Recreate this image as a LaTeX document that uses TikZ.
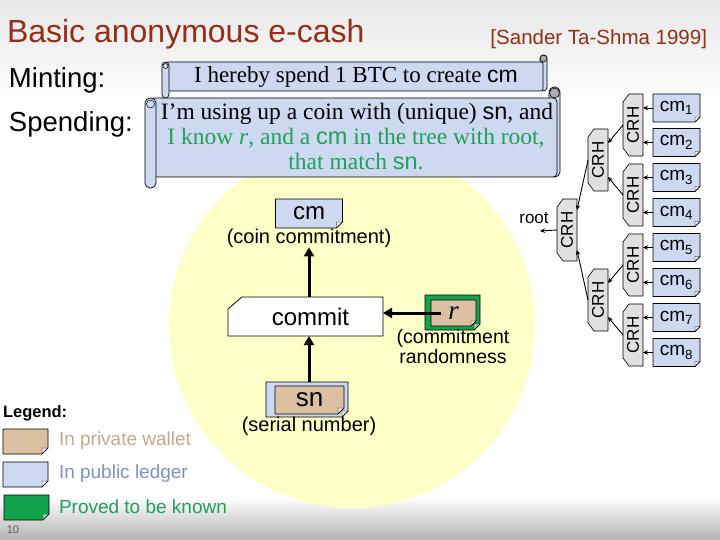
\documentclass[tikz,border=0pt]{standalone}
\usepackage{fontspec}
\usepackage{graphicx}
\setmainfont{Liberation Serif}
\setsansfont{Liberation Sans}
\usetikzlibrary{calc,arrows.meta}
\pgfdeclarelayer{bg}
\pgfdeclarelayer{boxes}
\pgfsetlayers{bg,boxes,main}
\definecolor{titlered}{HTML}{962D14}
\definecolor{ledger}{HTML}{CCD9F0}
\definecolor{wallet}{HTML}{DCC0A2}
\definecolor{proved}{HTML}{12A34C}
\definecolor{crhgray}{HTML}{E0E0E0}
\definecolor{greentext}{HTML}{20A058}
\definecolor{circ}{HTML}{FFFFC8}
\definecolor{legtan}{HTML}{C8A888}
\definecolor{legblue}{HTML}{7D93C4}
\newcommand\fsz[1]{\fontsize{#1}{#1}\selectfont}
\newcommand\foldbox[3][6]{%
  \filldraw[fill=#3,draw=black,line width=0.7pt,line join=round]
    (#2.north west) -- (#2.north east) -- ($(#2.south east)+(0,-#1)$) -- ($(#2.south east)+(-#1,0)$) -- (#2.south west) -- cycle;
  \filldraw[fill=white!55!#3,draw=black,line width=0.4pt,line join=round]
    ($(#2.south east)+(0,-#1)$) -- ($(#2.south east)+(-#1,0)$) -- ($(#2.south east)+(-#1,-#1)$) -- cycle;
}
\newcommand\crhshape[1]{%
  \filldraw[fill=crhgray,draw=black,line width=0.6pt,line join=round]
   ($(#1.north west)+(6,0)$) -- (#1.north east) -- (#1.south east) -- ($(#1.south west)+(6,0)$) -- ($(#1.south west)+(0,-8)$) -- ($(#1.north west)+(0,8)$) -- cycle;}
\begin{document}
\begin{tikzpicture}[x=1pt,y=-1pt,
  every node/.style={inner sep=0pt, outer sep=0pt},
  sans/.style={font=\sffamily\fsz{#1}},
  big/.style={line width=3pt, -{Triangle[length=9pt,width=10pt]}},
  small/.style={line width=0.9pt, -{Stealth[length=5pt,width=4.5pt]}},
  crh/.style={minimum width=20pt, minimum height=62pt, font=\sffamily\fsz{17}},
  leaf/.style={minimum width=47pt, minimum height=28pt, font=\sffamily\fsz{19}},
]
\useasboundingbox (0,0) rectangle (720,540);
\begin{pgfonlayer}{bg}
  \fill[white] (0,0) rectangle (720,540);
  \shade[top color=gray!18, bottom color=white] (0,0) rectangle (720,110);
  \shade[top color=white, bottom color=gray!60] (0,498) rectangle (720,540);
  \fill[circ] (352,325) circle[radius=183];
\end{pgfonlayer}

% titles
\node[sans=32, text=titlered, anchor=west] (title) at (7,34) {Basic anonymous e-cash};
\node[sans=20.5, text=titlered, anchor=east] (cite) at (707,39) {[Sander Ta-Shma 1999]};
\node[sans=27.5, anchor=west] (minting) at (9,80) {Minting:};
\node[sans=27.5, anchor=west] (spending) at (9,124) {Spending:};

% scroll texts
\node[font=\fsz{23}] (mint) at (356,77) {I hereby spend 1 BTC to create \textsf{cm}};
\node[font=\fsz{23.5}] (sp1) at (357,114) {I’m using up a coin with (unique) \textsf{sn}, and};
\node[font=\fsz{23.5}, text=greentext] (sp2) at (356,138) {I know \textit{r}, and a \textsf{cm} in the tree with root,};
\node[font=\fsz{23.5}, text=greentext] (sp3) at (356,162) {that match \textsf{sn}.};

% main diagram
\node[minimum width=67pt, minimum height=29pt, sans=24] (cm) at (309,213.5) {cm};
\node[sans=20] (cmlab) at (309,238) {(coin commitment)};
\node[minimum width=155pt, minimum height=39pt, sans=24] (commit) at (305.5,316.5) {\hspace{10pt}commit};
\node[minimum width=82pt, minimum height=35pt] (snout) at (307,399.5) {};
\node[minimum width=69pt, minimum height=28pt, sans=26] (sn) at (309.5,400) {sn};
\node[sans=20] (snlab) at (309,426.5) {(serial number)};
\node[minimum width=55pt, minimum height=35pt] (rout) at (452.5,312.5) {};
\node[minimum width=45pt, minimum height=26pt, font=\fsz{27}\itshape] (r) at (453.5,313) {r};
\node[sans=19.5] (rlab1) at (453,338) {(commitment};
\node[sans=19.5] (rlab2) at (453,357) {randomness};

\draw[big] (commit.north -| cm.south) -- (cmlab.south -| cm.south);
\draw[big] (snout.north -| cm.south) -- (commit.south -| cm.south);
\draw[big] ($(r.west)+(10,0)$) -- (commit.east |- r.west);

% tree
\node[crh] (root) at (567,230) {\rotatebox{90}{CRH}};
\node[crh] (b1) at (598,160) {\rotatebox{90}{CRH}};
\node[crh] (b2) at (598,300) {\rotatebox{90}{CRH}};
\node[crh] (c1) at (633,125) {\rotatebox{90}{CRH}};
\node[crh] (c2) at (633,195) {\rotatebox{90}{CRH}};
\node[crh] (c3) at (633,265) {\rotatebox{90}{CRH}};
\node[crh] (c4) at (633,335) {\rotatebox{90}{CRH}};
\foreach \i/\y in {1/108,2/142.5,3/177.5,4/212.5,5/247.5,6/282.5,7/317.5,8/352.5}
  \node[leaf] (l\i) at (676.5,\y) {cm\textsubscript{\i}};
\foreach \i/\c in {1/c1,2/c1,3/c2,4/c2,5/c3,6/c3,7/c4,8/c4}
  \draw[small] (l\i.west) -- (l\i.west -| \c.east);
\draw[small] (c1.west) -- ($(b1.east)+(0,-17)$);
\draw[small] (c2.west) -- ($(b1.east)+(0,17)$);
\draw[small] (c3.west) -- ($(b2.east)+(0,-17)$);
\draw[small] (c4.west) -- ($(b2.east)+(0,17)$);
\draw[small] (b1.west) -- ($(root.east)+(0,-20)$);
\draw[small] (b2.west) -- ($(root.east)+(0,20)$);
\coordinate (rootend) at (540,231);
\draw[small] (root.west) -- (rootend);
\node[sans=17] (rootlbl) at (534,218) {root};

% legend
\node[font=\sffamily\bfseries\fsz{16.5}, anchor=west] (legend) at (3,413) {Legend:};
\node[minimum width=45pt, minimum height=25pt] (lg1) at (25.5,441.5) {};
\node[minimum width=45pt, minimum height=25pt] (lg2) at (25.5,474.5) {};
\node[minimum width=45pt, minimum height=25pt] (lg3) at (26.5,507.5) {};
\node[sans=19, text=legtan, anchor=west] (lt1) at (59,441) {In private wallet};
\node[sans=19, text=legblue, anchor=west] (lt2) at (59,474) {In public ledger};
\node[sans=19, text=greentext, anchor=west] (lt3) at (59,507) {Proved to be known};
\node[sans=11, text=gray!70!black] (pnum) at (13,530) {10};

\begin{pgfonlayer}{boxes}
  % minting scroll
  \filldraw[fill=ledger, line width=0.7pt, rounded corners=3.5pt] (540,55) rectangle (547,91);
  \filldraw[fill=gray!65, line width=0.6pt] (543.5,58.5) circle[radius=3.5];
  \filldraw[fill=ledger, line width=0.7pt, rounded corners=2pt] (166,62) rectangle (543,91);
  \filldraw[fill=ledger, line width=0.7pt, rounded corners=3.5pt] (162,62) rectangle (169,98);
  \draw[line width=0.5pt] (165.5,66) circle[radius=2.5];
  % spending scroll
  \filldraw[fill=ledger, line width=0.7pt, rounded corners=5pt] (549,87) rectangle (560,177);
  \filldraw[fill=gray!65, line width=0.6pt] (554.5,93) circle[radius=5];
  \filldraw[fill=ledger, line width=0.7pt, rounded corners=4pt] (150,98) rectangle (557,177);
  \filldraw[fill=ledger, line width=0.7pt, rounded corners=5pt] (145,98) rectangle (156,188);
  \draw[line width=0.5pt] (150.5,104) circle[radius=4];
  % boxes
  \foldbox{cm}{ledger}
  \filldraw[fill=white, line width=0.8pt, line join=round] ($(commit.north west)+(14,0)$) -- (commit.north east) -- (commit.south east) -- (commit.south west) -- ($(commit.north west)+(0,12)$) -- cycle;
  \foldbox{snout}{ledger}
  \foldbox{sn}{wallet}
  \foldbox{rout}{proved}
  \foldbox[5]{r}{wallet}
  \foreach \n in {root,b1,b2,c1,c2,c3,c4} {\crhshape{\n}}
  \foreach \i in {1,...,8} {\foldbox[5]{l\i}{ledger}}
  \foldbox{lg1}{wallet}
  \foldbox{lg2}{ledger}
  \foldbox{lg3}{proved}
\end{pgfonlayer}
\end{tikzpicture}
\end{document}
